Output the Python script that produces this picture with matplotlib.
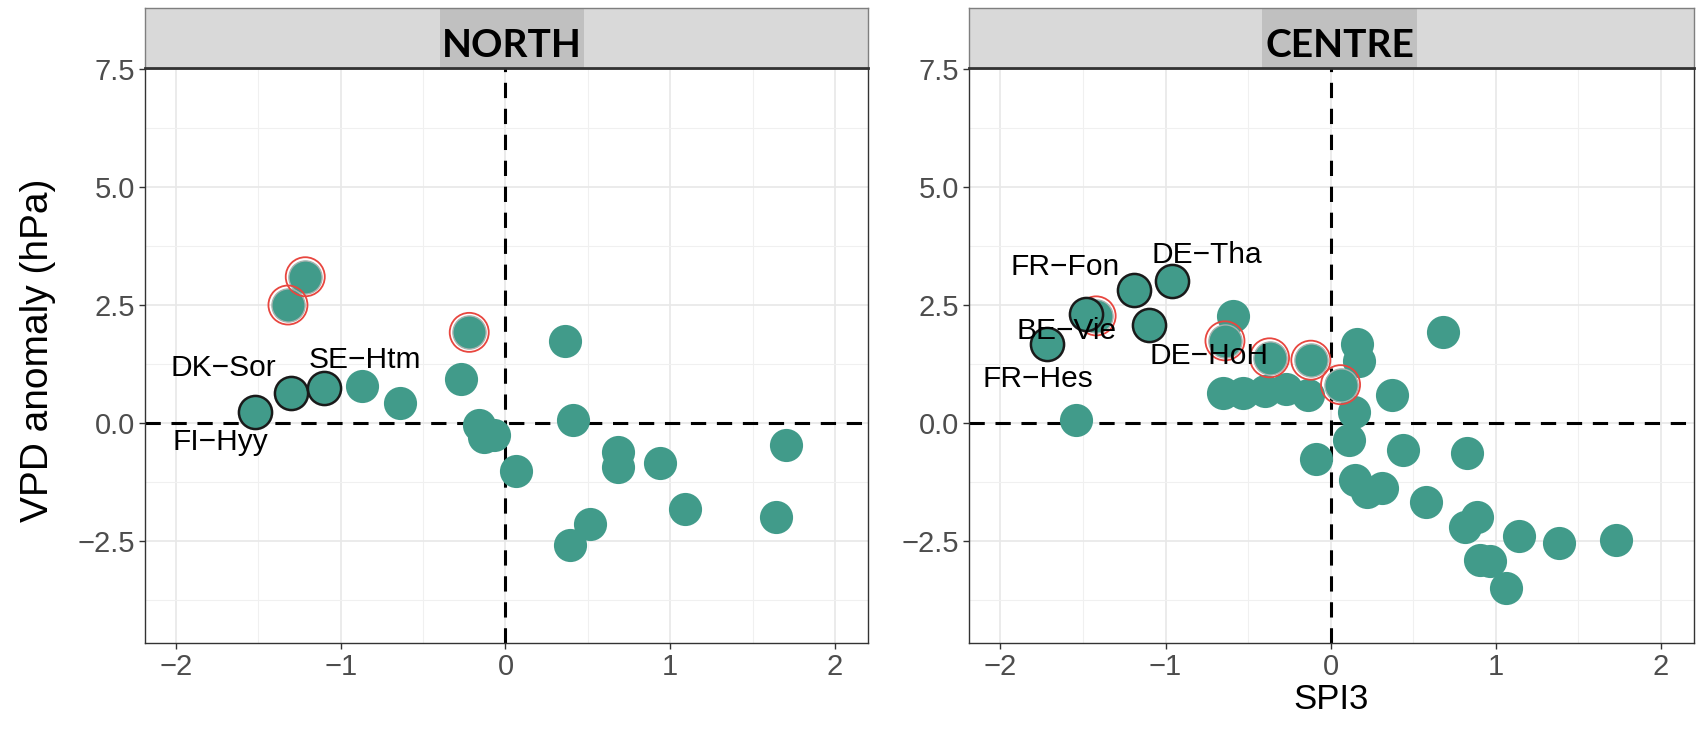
import matplotlib
matplotlib.use("Agg")
import matplotlib.pyplot as plt
from matplotlib.patches import Rectangle

plt.rcParams['font.family'] = ['Liberation Sans', 'DejaVu Sans']

# NORTH
north_x = [-0.87, -0.64, -0.27, -0.16, -0.13, -0.07, 0.36, 0.41, 0.065, 0.685,
           0.685, 0.94, 1.70, 1.09, 1.64, 0.51, 0.39]
north_y = [0.78, 0.43, 0.92, -0.04, -0.30, -0.25, 1.74, 0.07, -1.03, -0.61,
           -0.93, -0.85, -0.46, -1.82, -2.00, -2.14, -2.60]
north_ring_x = [-1.215, -1.32, -0.22]
north_ring_y = [3.10, 2.50, 1.92]
north_sites = ['FI−Hyy', 'DK−Sor', 'SE−Htm']
north_site_x = [-1.52, -1.30, -1.10]
north_site_y = [0.23, 0.64, 0.75]
north_lab_x = [-1.73, -1.715, -0.854]
north_lab_y = [-0.40, 1.17, 1.34]

# CENTRE
centre_x = [-1.545, -0.59, -0.65, -0.53, -0.40, -0.27, -0.14, -0.09, 0.16, 0.17,
            0.68, 0.37, 0.14, 0.11, 0.44, 0.825, 0.15, 0.22, 0.31, 0.58,
            0.886, 0.815, 1.14, 1.38, 1.73, 0.906, 0.967, 1.06]
centre_y = [0.06, 2.27, 0.63, 0.63, 0.68, 0.72, 0.60, -0.77, 1.67, 1.31,
            1.92, 0.60, 0.24, -0.36, -0.57, -0.64, -1.21, -1.46, -1.39, -1.68,
            -1.99, -2.20, -2.41, -2.55, -2.48, -2.91, -2.94, -3.51]
centre_ring_x = [-1.42, -0.64, -0.37, -0.12, 0.06]
centre_ring_y = [2.27, 1.74, 1.38, 1.33, 0.81]
centre_sites = ['FR−Fon', 'DE−Tha', 'DE−HoH', 'BE−Vie', 'FR−Hes']
centre_site_x = [-1.19, -0.96, -1.10, -1.48, -1.72]
centre_site_y = [2.81, 3.00, 2.07, 2.32, 1.67]
centre_lab_x = [-1.61, -0.75, -0.735, -1.60, -1.77]
centre_lab_y = [3.31, 3.56, 1.41, 1.94, 0.93]

x_ticks = [-2, -1, 0, 1, 2]
y_ticks = [-2.5, 0.0, 2.5, 5.0, 7.5]

teal = '#419b8a'


def fmt(v, dec):
    return (f'{v:.{dec}f}').replace('-', '\u2212')


def draw_panel(ax, px, py, rx, ry, sites, sx, sy, lx, ly):
    ax.set_xlim(-2.19, 2.2)
    ax.set_ylim(-4.67, 7.53)
    ax.set_xticks(x_ticks)
    ax.set_xticklabels([fmt(v, 0) for v in x_ticks])
    ax.set_yticks(y_ticks)
    ax.set_yticklabels([fmt(v, 1) for v in y_ticks])
    ax.set_xticks([-1.5, -0.5, 0.5, 1.5], minor=True)
    ax.set_yticks([-3.75, -1.25, 1.25, 3.75, 6.25], minor=True)
    ax.grid(which='major', color='#e8e8e8', lw=1.2)
    ax.grid(which='minor', color='#f0f0f0', lw=0.8)
    ax.set_axisbelow(True)
    ax.tick_params(which='major', length=4, width=1, color='#333333',
                   labelsize=21, labelcolor='#4d4d4d', pad=3)
    ax.tick_params(which='minor', length=0)
    for s in ax.spines.values():
        s.set_color('#333333')
        s.set_linewidth(1)
    ax.axhline(0, color='black', lw=2.2, ls=(0, (5, 3.5)), zorder=1)
    ax.axvline(0, color='black', lw=2.2, ls=(0, (5, 3.5)), zorder=1)
    ax.scatter(px, py, s=570, color=teal, lw=0, zorder=3)
    ax.scatter(rx, ry, s=570, color=teal, edgecolors='#a5b3af', lw=1.0, zorder=3)
    ax.scatter(rx, ry, s=790, facecolors='none', edgecolors='#e8463f', lw=1.3, zorder=4)
    ax.scatter(sx, sy, s=570, color=teal, edgecolors='#1a1a1a', lw=1.8, zorder=5)
    for name, tx, ty in zip(sites, lx, ly):
        ax.text(tx, ty, name, fontsize=21.5, ha='center', va='center', color='black', zorder=6)


def draw_strip(ax, title, box_x0, box_x1, text_x):
    ax.set_xlim(0, 1)
    ax.set_ylim(0, 1)
    ax.set_facecolor('#d9d9d9')
    ax.set_xticks([])
    ax.set_yticks([])
    for side in ['top', 'left', 'right']:
        ax.spines[side].set_color('#7f7f7f')
        ax.spines[side].set_linewidth(1)
    ax.spines['bottom'].set_color('#333333')
    ax.spines['bottom'].set_linewidth(2)
    ax.add_patch(Rectangle((box_x0, 0), box_x1 - box_x0, 1, facecolor='#c0c0c0',
                           edgecolor='none', transform=ax.transAxes))
    ax.text(text_x, 0.19, title, fontsize=28, fontweight='bold', ha='center',
            va='baseline', color='black', family=['Lato', 'DejaVu Sans'])


fig = plt.figure(figsize=(16.97, 7.29), dpi=100)
ax1 = fig.add_axes([0.0852, 0.118, 0.4263, 0.7888])
ax2 = fig.add_axes([0.571, 0.118, 0.4272, 0.7888])
s1 = fig.add_axes([0.0852, 0.9067, 0.4263, 0.0823])
s2 = fig.add_axes([0.571, 0.9067, 0.4272, 0.0823])

draw_panel(ax1, north_x, north_y, north_ring_x, north_ring_y, north_sites,
           north_site_x, north_site_y, north_lab_x, north_lab_y)
draw_panel(ax2, centre_x, centre_y, centre_ring_x, centre_ring_y, centre_sites,
           centre_site_x, centre_site_y, centre_lab_x, centre_lab_y)

draw_strip(s1, 'NORTH', 0.408, 0.607, 0.508)
draw_strip(s2, 'CENTRE', 0.404, 0.618, 0.511)

ax2.set_xlabel('SPI3', fontsize=25, labelpad=2)
fig.text(38 / 1697, 1 - 350 / 729, 'VPD anomaly (hPa)', rotation=90, fontsize=28,
         ha='center', va='center')

fig.savefig('out.png', dpi=100)
